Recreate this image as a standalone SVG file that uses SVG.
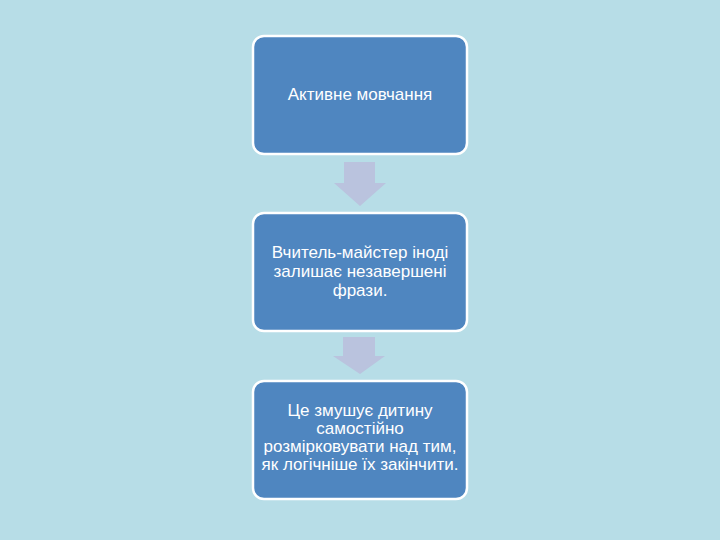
<svg xmlns="http://www.w3.org/2000/svg" width="720" height="540" viewBox="0 0 720 540">
<style>
.box{fill:#4f86c0;stroke:#ffffff;stroke-width:2.5}
.arr{fill:#bac3de}
text{font-family:"Liberation Sans",Arial,sans-serif;font-size:17px;fill:#ffffff;text-anchor:middle}
</style>
<rect width="720" height="540" fill="#b7dde7"/>
<g id="connectors">
<polygon class="arr" points="344,162 375,162 375,183 386,183 360,206 334,183 344,183"/>
<polygon class="arr" points="343,337 375,337 375,356 385,356 360,374 333,356 343,356"/>
</g>
<g id="node1">
<rect class="box" x="253" y="36" width="214" height="118" rx="11"/>
<text x="360" y="100">Активне мовчання</text>
</g>
<g id="node2">
<rect class="box" x="253" y="213" width="214" height="118" rx="11"/>
<text x="360" y="258">Вчитель-майстер іноді</text>
<text x="360" y="277">залишає незавершені</text>
<text x="360" y="296">фрази.</text>
</g>
<g id="node3">
<rect class="box" x="253" y="381" width="214" height="118" rx="11"/>
<text x="360" y="416">Це змушує дитину</text>
<text x="360" y="434">самостійно</text>
<text x="360" y="452">розмірковувати над тим,</text>
<text x="360" y="470">як логічніше їх закінчити.</text>
</g>
</svg>
